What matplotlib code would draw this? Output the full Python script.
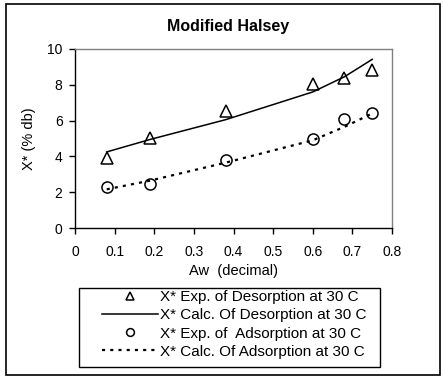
import matplotlib
matplotlib.use("Agg")
import matplotlib.pyplot as plt
from matplotlib.patches import Rectangle

plt.rcParams['font.family'] = ['Liberation Sans', 'DejaVu Sans']
plt.rcParams['font.size'] = 10

aw = [0.08, 0.19, 0.38, 0.60, 0.68, 0.75]
des_exp = [3.9, 5.05, 6.55, 8.05, 8.4, 8.8]
des_calc = [4.25, 4.95, 6.05, 7.6, 8.45, 9.42]
ads_exp = [2.3, 2.46, 3.8, 5.0, 6.08, 6.4]
ads_calc = [2.16, 2.65, 3.65, 4.9, 5.65, 6.4]

labels = ["X* Exp. of Desorption at 30 C",
          "X* Calc. Of Desorption at 30 C",
          "X* Exp. of  Adsorption at 30 C",
          "X* Calc. Of Adsorption at 30 C"]

W, H = 444, 376
fig = plt.figure(figsize=(W/100, H/100), dpi=100)
ax = fig.add_axes([75/W, 1-228/H, (392-75)/W, (228-49)/H])

h1, = ax.plot(aw, des_exp, linestyle='none', marker='^', markersize=8,
              markerfacecolor='white', markeredgecolor='black', markeredgewidth=1.1, label=labels[0])
h2, = ax.plot(aw, des_calc, color='black', linewidth=1.1, label=labels[1])
h3, = ax.plot(aw, ads_exp, linestyle='none', marker='o', markersize=8,
              markerfacecolor='white', markeredgecolor='black', markeredgewidth=1.1, label=labels[2])
h4, = ax.plot(aw, ads_calc, color='black', linewidth=1.6, linestyle=(0, (1.4, 2.3)), label=labels[3])

ax.set_xlim(0, 0.8)
ax.set_ylim(0, 10)
ax.set_xticks([0, 0.1, 0.2, 0.3, 0.4, 0.5, 0.6, 0.7, 0.8])
ax.set_xticklabels(['0', '0.1', '0.2', '0.3', '0.4', '0.5', '0.6', '0.7', '0.8'])
ax.set_yticks([0, 2, 4, 6, 8, 10])
ax.tick_params(direction='out', length=4, width=1)
ax.tick_params(axis='x', pad=8)
ax.tick_params(axis='y', pad=5)
for s in ['top', 'right']:
    ax.spines[s].set_color('#808080')
    ax.spines[s].set_linewidth(1)
for s in ['left', 'bottom']:
    ax.spines[s].set_color('black')
    ax.spines[s].set_linewidth(1)

ax.set_xlabel('Aw  (decimal)', labelpad=4, fontsize=10.5)
ax.set_ylabel('X* (% db)', labelpad=8, fontsize=10.5)

fig.text(228/W, 1-27/H, 'Modified Halsey', ha='center', va='center', fontweight='bold', fontsize=11.5)

leg = fig.legend(handles=[h1, h2, h3, h4], loc='upper left',
                 bbox_to_anchor=(102/W, 1-290/H), frameon=False,
                 borderpad=0, labelspacing=0.28, fontsize=11,
                 handlelength=3.66, handletextpad=0.13, borderaxespad=0, markerscale=0.7)

fig.patches.append(Rectangle((79/W, 1-367/H), (380-79)/W, (367-288)/H, transform=fig.transFigure,
                             fill=False, edgecolor='black', linewidth=1.0))
fig.patches.append(Rectangle((6/W, 1-374.5/H), (440-6)/W, (374.5-4)/H, transform=fig.transFigure,
                             fill=False, edgecolor='black', linewidth=1.2))

fig.savefig('out.png', dpi=100)
